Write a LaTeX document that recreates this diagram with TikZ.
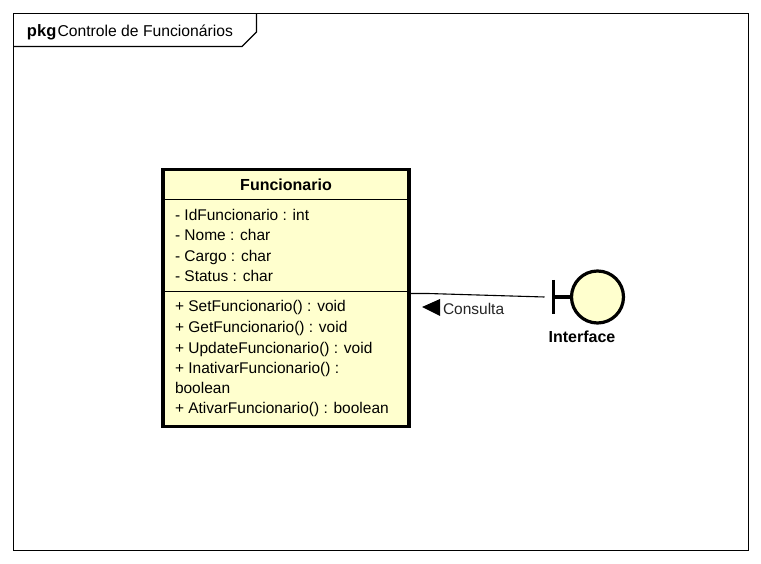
\documentclass[tikz,border=0pt]{standalone}
\usepackage{fontspec}
\setmainfont{Liberation Sans}
\tikzset{
  every node/.style={inner sep=0pt,outer sep=0pt,text=black},
  txt/.style={anchor=base west,font=\fontsize{15.5}{17}\selectfont},
  boldtxt/.style={font=\fontsize{16}{18}\selectfont\bfseries},
  thin line/.style={draw=black,line width=1.1pt},
  heavy/.style={draw=black,line width=3.2pt},
}
\definecolor{umlfill}{RGB}{255,255,206}
\begin{document}
\begin{tikzpicture}[x=1pt,y=-1pt]
\useasboundingbox[fill=white] (0,0) rectangle (761,564);
% package frame
\node[draw=black,line width=1.1pt,minimum width=735pt,minimum height=537pt,anchor=north west] (frame) at (13.5,13.5) {};
\coordinate (tabR) at (256.5,13.5);
\coordinate (tabC) at (256.5,32);
\coordinate (tabB) at (242,46.5);
\coordinate (tabL) at (13.5,46.5);
\draw[thin line] (tabR) -- (tabC) -- (tabB) -- (tabL);
\node[anchor=base west,font=\fontsize{16.5}{18}\selectfont\bfseries] (pkg) at (27,36.5) {pkg};
\node[anchor=base west,font=\fontsize{15.7}{17}\selectfont] (title) at (57.5,36.5) {Controle de Funcionários};
% class
\node[heavy,fill=umlfill,minimum width=246pt,minimum height=257pt,anchor=north west] (cls) at (163,169.5) {};
\coordinate (s1L) at (163,199.5);
\coordinate (s1R) at (409,199.5);
\coordinate (s2L) at (163,291.5);
\coordinate (s2R) at (409,291.5);
\draw[thin line] (s1L) -- (s1R);
\draw[thin line] (s2L) -- (s2R);
\node[boldtxt,anchor=base] (name) at (286,190.5) {Funcionario};
\node[txt] (a1) at (175,221) {- IdFuncionario : int};
\node[txt] (a2) at (175,241) {- Nome : char};
\node[txt] (a3) at (175,261.5) {- Cargo : char};
\node[txt] (a4) at (175,282) {- Status : char};
\node[txt] (m1) at (175,312) {+ SetFuncionario() : void};
\node[txt] (m2) at (175,332.5) {+ GetFuncionario() : void};
\node[txt] (m3) at (175,353) {+ UpdateFuncionario() : void};
\node[txt] (m4) at (175,373) {+ InativarFuncionario() :};
\node[txt] (m4b) at (175,393) {boolean};
\node[txt] (m5) at (175,413.5) {+ AtivarFuncionario() : boolean};
% boundary
\node[heavy,fill=umlfill,circle,minimum size=52pt] (bnd) at (597.5,297) {};
\coordinate (barT) at (553.5,280);
\coordinate (barB) at (553.5,314);
\coordinate (barM) at (553.5,297);
\draw[heavy] (barT) -- (barB);
\draw[heavy] (barM) -- (bnd.west);
\node[boldtxt,anchor=base] (bname) at (582,342) {Interface};
% association
\coordinate (end) at (544.5,297);
\coordinate (bend) at (428,293.5);
\draw[draw=black,line width=1.1pt] (cls.east |- bend) -- (bend) -- (end);
\coordinate (tipA) at (422,307);
\coordinate (tipB) at (440,299);
\coordinate (tipC) at (440,316);
\fill[black] (tipA) -- (tipB) -- (tipC) -- cycle;
\node[txt,text=black!85] (lab) at (443,314.5) {Consulta};
\end{tikzpicture}
\end{document}
